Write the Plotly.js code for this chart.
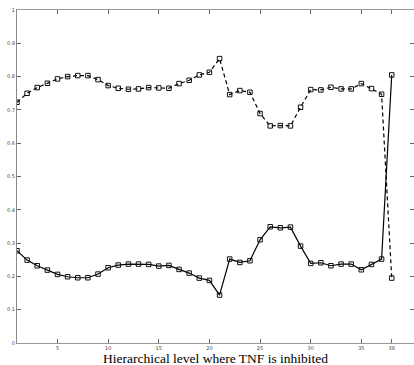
<!DOCTYPE html>
<html>
<head>
<meta charset="utf-8">
<script src="https://cdn.plot.ly/plotly-3.0.1.min.js"></script>
<style>html,body{margin:0;padding:0;background:#fff;}#chart{width:414px;height:365px;}</style>
</head>
<body>
<div id="chart"></div>
<script>
var levels = [1,2,3,4,5,6,7,8,9,10,11,12,13,14,15,16,17,18,19,20,21,22,23,24,25,26,27,28,29,30,31,32,33,34,35,36,37,38];
var upperSeries = [0.723,0.750,0.767,0.780,0.793,0.800,0.803,0.803,0.791,0.773,0.765,0.762,0.763,0.767,0.766,0.765,0.779,0.789,0.805,0.813,0.854,0.746,0.758,0.753,0.689,0.652,0.653,0.652,0.708,0.761,0.760,0.768,0.763,0.763,0.779,0.764,0.747,0.195];
var lowerSeries = [0.277,0.249,0.232,0.219,0.206,0.199,0.196,0.196,0.207,0.226,0.234,0.237,0.237,0.236,0.231,0.233,0.221,0.210,0.195,0.188,0.144,0.252,0.242,0.247,0.310,0.349,0.346,0.348,0.291,0.239,0.241,0.232,0.237,0.237,0.220,0.236,0.252,0.805];
var xTickVals = [5,10,15,20,25,30,35,38];
var xTickText = ['5','10','15','20','25','30','35','38'];
var yTickVals = [0,0.1,0.2,0.3,0.4,0.5,0.6,0.7,0.8,0.9,1];
var yTickText = ['0','0.1','0.2','0.3','0.4','0.5','0.6','0.7','0.8','0.9','1'];
var xTitle = 'Hierarchical level where TNF is inhibited';

var markerStyle = {symbol:'square-open', size:4.5, color:'#111', line:{width:1, color:'#111'}};
var traces = [
  {x: levels, y: upperSeries, mode:'lines+markers', line:{color:'#000', width:1.2, dash:'4px,3px'}, marker: markerStyle, showlegend:false},
  {x: levels, y: lowerSeries, mode:'lines+markers', line:{color:'#000', width:1.2}, marker: markerStyle, showlegend:false}
];
var tickFont = {family:'DejaVu Sans, sans-serif', size:5, color:'#444'};
var layout = {
  width:414, height:365,
  margin:{l:17, r:0, t:10, b:22, pad:0},
  paper_bgcolor:'#fff', plot_bgcolor:'#fff',
  xaxis:{
    range:[1,40.2], tickmode:'array', tickvals:xTickVals, ticktext:xTickText,
    ticks:'inside', ticklen:4, tickcolor:'#666', tickwidth:1,
    showline:true, linecolor:'#999', linewidth:1, mirror:'ticks',
    showgrid:false, zeroline:false, tickfont:tickFont, automargin:false
  },
  yaxis:{
    range:[0,1], tickmode:'array', tickvals:yTickVals, ticktext:yTickText,
    ticks:'inside', ticklen:4, tickcolor:'#666', tickwidth:1,
    showline:true, linecolor:'#888', linewidth:1, mirror:'ticks',
    showgrid:false, zeroline:false, tickfont:tickFont, automargin:false
  },
  annotations:[{
    text: xTitle, xref:'paper', yref:'paper', x:0.5, y:0, xanchor:'center', yanchor:'top',
    yshift:-7, showarrow:false, borderpad:0,
    font:{family:'Liberation Serif, DejaVu Serif, serif', size:13.5, color:'#000'}
  }]
};
Plotly.newPlot('chart', traces, layout, {displayModeBar:false, staticPlot:true});
</script>
</body>
</html>
